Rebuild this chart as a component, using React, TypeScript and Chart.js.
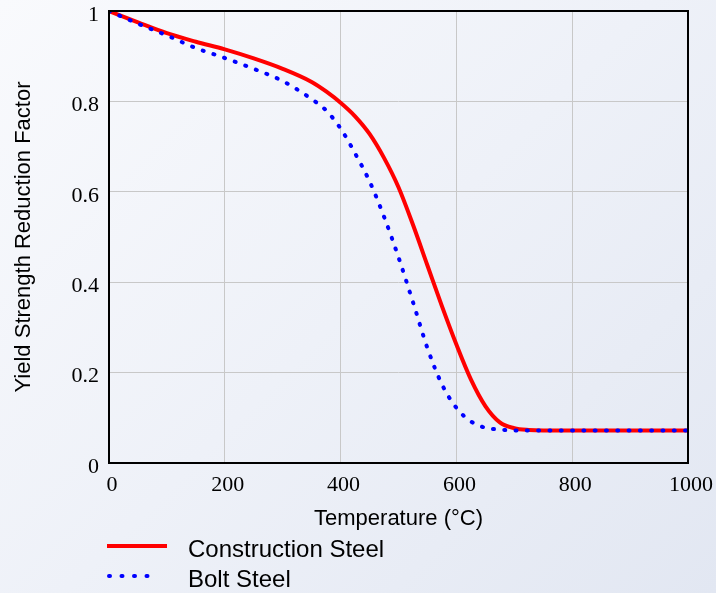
import React, { useEffect, useRef } from "react";
import { Chart, registerables } from "chart.js";

Chart.register(...registerables);

// Temperature (°C)
const temperatures = [0, 50, 100, 150, 200, 250, 300, 350, 375, 400, 425, 450, 475, 500, 525, 550, 575, 600, 625, 650, 675, 700, 725, 750, 800, 900, 1000];
// Yield strength reduction factor
const constructionSteel = [1.0, 0.975, 0.951, 0.932, 0.915, 0.895, 0.872, 0.843, 0.822, 0.797, 0.767, 0.728, 0.675, 0.61, 0.527, 0.437, 0.347, 0.262, 0.185, 0.126, 0.09, 0.077, 0.073, 0.072, 0.072, 0.072, 0.072];
const boltSteel = [1.0, 0.972, 0.946, 0.918, 0.896, 0.872, 0.845, 0.805, 0.78, 0.74, 0.685, 0.623, 0.545, 0.455, 0.356, 0.254, 0.174, 0.122, 0.092, 0.078, 0.074, 0.072, 0.072, 0.072, 0.072, 0.072, 0.072];

const seriesLabels = ["Construction Steel", "Bolt Steel"];
const xTicks = [0, 200, 400, 600, 800, 1000];
const yTicks = [0, 0.2, 0.4, 0.6, 0.8, 1];
const xTitle = "Temperature (°C)";
const yTitle = "Yield Strength Reduction Factor";

const SANS = '"Liberation Sans", Arial, sans-serif';
const SERIF = '"Liberation Serif", "Times New Roman", serif';

export default function App() {
  const ref = useRef<HTMLCanvasElement>(null);

  useEffect(() => {
    const canvas = ref.current;
    if (!canvas) return;

    const framePlugin = {
      id: "frame",
      afterDatasetsDraw(chart: any) {
        const { ctx, chartArea } = chart;
        ctx.save();
        ctx.strokeStyle = "#000";
        ctx.lineWidth = 2;
        ctx.strokeRect(chartArea.left, chartArea.top, chartArea.right - chartArea.left, chartArea.bottom - chartArea.top);
        ctx.restore();
      },
    };

    const legendPlugin = {
      id: "customLegend",
      afterDraw(chart: any) {
        const { ctx } = chart;
        const ds = chart.data.datasets;
        ctx.save();
        ctx.strokeStyle = ds[0].borderColor;
        ctx.lineWidth = ds[0].borderWidth;
        ctx.lineCap = "butt";
        ctx.setLineDash([]);
        ctx.beginPath();
        ctx.moveTo(107, 546);
        ctx.lineTo(167, 546);
        ctx.stroke();
        ctx.strokeStyle = ds[1].borderColor;
        ctx.lineWidth = ds[1].borderWidth;
        ctx.lineCap = "round";
        ctx.setLineDash([1, 11.5]);
        ctx.beginPath();
        ctx.moveTo(109, 576);
        ctx.lineTo(158, 576);
        ctx.stroke();
        ctx.setLineDash([]);
        ctx.fillStyle = "#000";
        ctx.font = `24px ${SANS}`;
        ctx.textAlign = "left";
        ctx.textBaseline = "alphabetic";
        ctx.fillText(ds[0].label, 188, 557);
        ctx.fillText(ds[1].label, 188, 587);
        ctx.restore();
      },
    };

    const chart = new Chart(canvas, {
      type: "line",
      data: {
        datasets: [
          {
            label: seriesLabels[0],
            data: temperatures.map((t, i) => ({ x: t, y: constructionSteel[i] })),
            borderColor: "#ff0000",
            backgroundColor: "#ff0000",
            borderWidth: 4,
            pointRadius: 0,
            cubicInterpolationMode: "monotone",
            fill: false,
            order: 2,
          },
          {
            label: seriesLabels[1],
            data: temperatures.map((t, i) => ({ x: t, y: boltSteel[i] })),
            borderColor: "#0000ff",
            backgroundColor: "#0000ff",
            borderWidth: 4,
            borderDash: [1, 10.3],
            borderCapStyle: "round",
            pointRadius: 0,
            cubicInterpolationMode: "monotone",
            fill: false,
            order: 1,
          },
        ],
      },
      options: {
        responsive: false,
        animation: false,
        devicePixelRatio: 1,
        layout: { padding: { top: 11, right: 28, left: 0, bottom: 0 } },
        plugins: {
          legend: { display: false },
          tooltip: { enabled: false },
        },
        scales: {
          x: {
            type: "linear",
            min: 0,
            max: 1000,
            afterBuildTicks: (s: any) => {
              s.ticks = xTicks.map((v) => ({ value: v }));
            },
            afterFit: (s: any) => {
              s.height = 130;
              s.paddingLeft = 0;
              s.paddingRight = 0;
            },
            grid: { color: "#c8c8c8", lineWidth: 1, drawTicks: false },
            border: { display: false },
            ticks: {
              font: { family: SERIF, size: 22 },
              color: "#000",
              padding: 9,
              labelOffset: 3,
              maxRotation: 0,
              autoSkip: false,
              callback: (v: any) => String(v),
            },
            title: {
              display: true,
              text: xTitle,
              color: "#000",
              font: { family: SANS, size: 22 },
              padding: { top: 0, bottom: 61 },
            },
          },
          y: {
            type: "linear",
            min: 0,
            max: 1,
            afterBuildTicks: (s: any) => {
              s.ticks = yTicks.map((v) => ({ value: v }));
            },
            afterFit: (s: any) => {
              s.width = 109;
              s.paddingTop = 0;
              s.paddingBottom = 0;
            },
            grid: { color: "#c8c8c8", lineWidth: 1, drawTicks: false },
            border: { display: false },
            ticks: {
              font: { family: SERIF, size: 22 },
              color: "#000",
              padding: 10,
              labelOffset: 4,
              autoSkip: false,
              callback: (v: any) => (v === 0 ? "0" : v === 1 ? "1" : Number(v).toFixed(1)),
            },
            title: {
              display: true,
              text: yTitle,
              color: "#000",
              font: { family: SANS, size: 22 },
              padding: { top: 11, bottom: 0 },
            },
          },
        },
      },
      plugins: [framePlugin, legendPlugin],
    } as any);

    return () => chart.destroy();
  }, []);

  return (
    <div
      style={{
        position: "fixed",
        left: 0,
        top: 0,
        width: 716,
        height: 593,
        background: "linear-gradient(135deg, #f9fafd 0%, #eef1f8 50%, #e2e7f2 100%)",
      }}
    >
      <canvas ref={ref} width={716} height={593} style={{ display: "block", width: 716, height: 593 }} />
    </div>
  );
}
